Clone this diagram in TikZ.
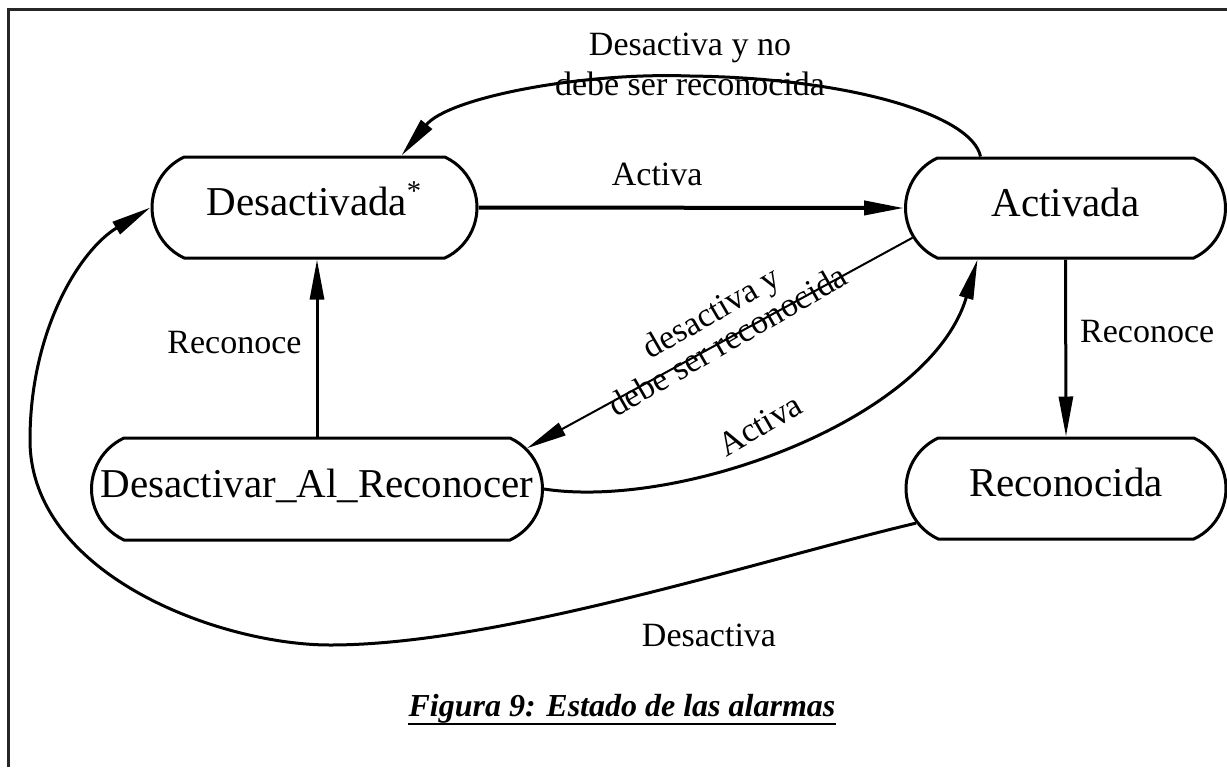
\documentclass[tikz,border=0pt]{standalone}
\usepackage{fontspec}
\setmainfont{Liberation Serif}
\usetikzlibrary{shapes.misc,arrows.meta,calc}
\begin{document}
\begin{tikzpicture}[x=0.5pt,y=-0.5pt,
  state/.style={rounded rectangle, rounded rectangle arc length=130, draw,
    line width=1.5pt, inner sep=0pt, font=\fontsize{20.5}{24}\selectfont,
    text height=12pt, text depth=4pt},
  lbl/.style={inner sep=0pt, font=\fontsize{17}{20}\selectfont},
  conn/.style={line width=1.5pt, -{Triangle[length=20pt,width=7pt]}},
  thinconn/.style={conn, line width=1pt},
  titlefont/.style={font=\fontsize{16}{20}\selectfont\bfseries\itshape}
]
\useasboundingbox (0,0) rectangle (1227,767);
% page frame
\draw[line width=1.5pt, black!85] (8,767) -- (8,9) -- (1227,9);

% states
\node[state, minimum width=162.5pt, minimum height=50.5pt] (D) at (314.5,207.5) {Desactivada\textsuperscript{*}};
\node[state, minimum width=160pt, minimum height=50pt] (A) at (1065.5,208) {Activada};
\node[state, minimum width=225.5pt, minimum height=51pt] (DR) at (317,489) {Desactivar\_Al\_Reconocer};
\node[state, minimum width=160pt, minimum height=50.5pt] (R) at (1066,488.5) {Reconocida};

% transitions
\draw[conn, line width=2pt] (D.east) -- node[lbl, pos=0.42, above=10pt] (lAct) {Activa} (A.west);

\draw[conn] ($(A.north)+(-85,0)$) .. controls (972,115) and (850,78) .. (690,76)
  .. controls (580,72) and (448,98) .. ($(D.north)+(87,0)$);
\node[lbl, align=center] (lNo) at (690,64) {Desactiva y no\\debe ser reconocida};

\draw[thinconn] (A.191) -- (DR.11);
\node[lbl, align=center, rotate=30, font=\fontsize{17}{16.5}\selectfont] (lDr) at (719,326) {desactiva y\\debe ser reconocida};

\draw[conn] (DR.east) .. controls (680,510) and (930,420) .. ($(A.south)+(-88,0)$);
\node[lbl, rotate=30] (lAct2) at (760,425) {Activa};

\draw[conn] (A.south) -- node[lbl, pos=0.405, right=6.5pt] (lRec1) {Reconoce} (R.north);
\draw[conn] (DR.north) -- node[lbl, pos=0.53, left=7pt] (lRec2) {Reconoce} (DR.north |- D.south);

\draw[conn] (R.193) .. controls (760,560) and (500,645) .. (330,645)
  .. controls (220,645) and (30,575) .. (30,440)
  .. controls (30,330) and (80,250) .. (D.west);
\node[lbl] (lDes) at (709,635) {Desactiva};

% caption
\node[titlefont, inner sep=0pt, anchor=base] (title) at (622,716) {Figura 9: Estado de las alarmas};
\draw[line width=1.4pt] ([yshift=-4pt]title.base west) -- ([yshift=-4pt]title.base east);
\end{tikzpicture}
\end{document}
